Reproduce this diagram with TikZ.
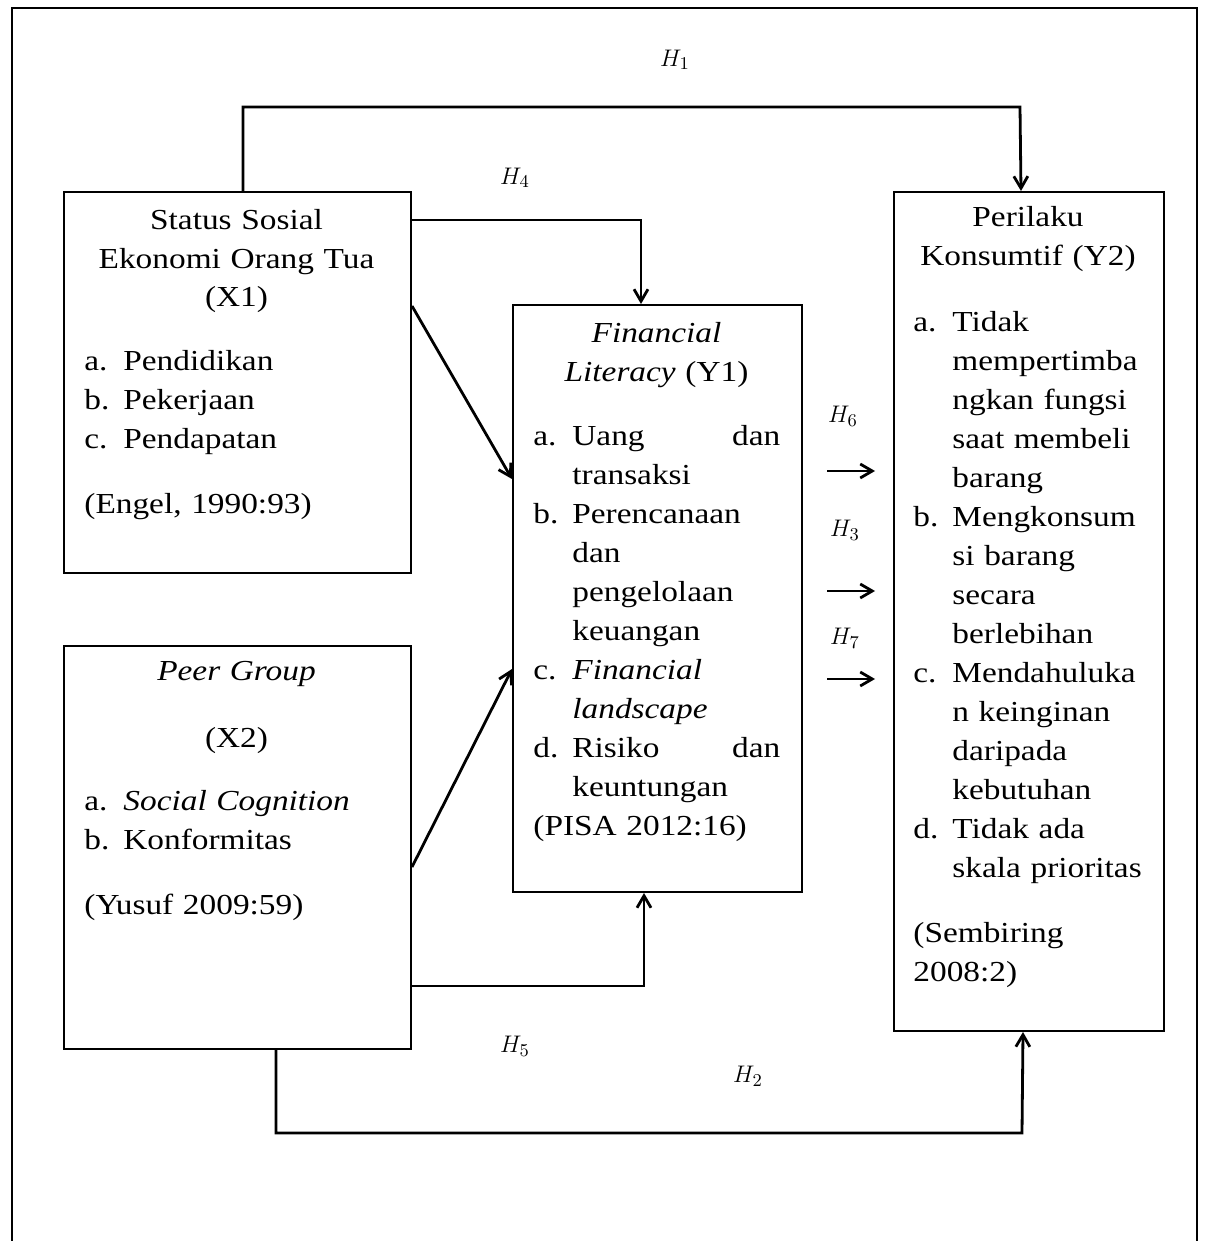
\documentclass[tikz,border=0pt]{standalone}
\usepackage{fontspec}
\setmainfont{Liberation Serif}[FakeStretch=1.15]
\usepackage{amsmath}
\usetikzlibrary{arrows.meta}

\newcommand{\itemlbl}[1]{\makebox[19.5pt][l]{#1}}
\newcommand{\itemind}{\hspace*{19.5pt}}

\tikzset{
  box/.style={draw, line width=1pt, anchor=north west, inner sep=0pt},
  ttl/.style={align=center, inner sep=0pt, anchor=base},
  lst/.style={align=left, inner sep=0pt, anchor=base west},
  arr/.style={-{Straight Barb[length=6pt,width=7pt]}, line width=1.4pt},
  hyp/.style={font=\fontsize{13}{15}\selectfont, inner sep=0pt}
}

\begin{document}
\begin{tikzpicture}[x=0.5pt, y=-0.5pt, every node/.style={font=\fontsize{14.5}{19.5}\selectfont}]
  \useasboundingbox (0,0) rectangle (1205,1241);

  % frame
  \draw[line width=1pt] (12,1241) |- (1197,8) -- (1197,1241);

  % Status sosial ekonomi orang tua
  \node[box, minimum width=173.5pt, minimum height=190.5pt] (x1) at (63,191) {};
  \node[ttl, text width=173.5pt] (x1ttl) at (236.5,229) {Status Sosial\\Ekonomi Orang Tua\\(X1)};
  \node[lst, text width=160pt] (x1lst) at (84,370)
    {\itemlbl{a.}Pendidikan\\\itemlbl{b.}Pekerjaan\\\itemlbl{c.}Pendapatan\\[13pt](Engel, 1990:93)};

  % Peer group
  \node[box, minimum width=173.5pt, minimum height=201.5pt] (x2) at (63,645) {};
  \node[ttl, text width=173.5pt] (x2ttl) at (236.5,680) {\textit{Peer Group}\\[14pt](X2)};
  \node[lst, text width=160pt] (x2lst) at (84,810)
    {\itemlbl{a.}\textit{Social Cognition}\\\itemlbl{b.}Konformitas\\[13pt](Yusuf 2009:59)};

  % Financial literacy
  \node[box, minimum width=144.5pt, minimum height=293.5pt] (y1) at (512,304) {};
  \node[ttl, text width=144.5pt] (y1ttl) at (656.5,342) {\textit{Financial}\\\textit{Literacy} (Y1)};
  \node[lst, text width=123.5pt] (y1lst) at (533,445)
    {\itemlbl{a.}Uang\hfill dan\\\itemind transaksi\\
     \itemlbl{b.}Perencanaan\\\itemind dan\\\itemind pengelolaan\\\itemind keuangan\\
     \itemlbl{c.}\textit{Financial}\\\itemind\textit{landscape}\\
     \itemlbl{d.}Risiko\hfill dan\\\itemind keuntungan\\(PISA 2012:16)};

  % Perilaku konsumtif
  \node[box, minimum width=135pt, minimum height=419.5pt] (y2) at (893,191) {};
  \node[ttl, text width=135pt] (y2ttl) at (1028,227) {Perilaku\\Konsumtif (Y2)};
  \node[lst, text width=122pt] (y2lst) at (913,331)
    {\itemlbl{a.}Tidak\\\itemind mempertimba\\\itemind ngkan fungsi\\\itemind saat membeli\\\itemind barang\\
     \itemlbl{b.}Mengkonsum\\\itemind si barang\\\itemind secara\\\itemind berlebihan\\
     \itemlbl{c.}Mendahuluka\\\itemind n keinginan\\\itemind daripada\\\itemind kebutuhan\\
     \itemlbl{d.}Tidak ada\\\itemind skala prioritas\\[13pt](Sembiring\\2008:2)};

  % Hipotesis
  \node[hyp] (h1) at (675,60) {$H_1$};
  \node[hyp] (h4) at (515,178) {$H_4$};
  \node[hyp] (h6) at (843,416) {$H_6$};
  \node[hyp] (h3) at (845,530) {$H_3$};
  \node[hyp] (h7) at (845,638) {$H_7$};
  \node[hyp] (h5) at (515,1046) {$H_5$};
  \node[hyp] (h2) at (748,1076) {$H_2$};

  % Panah
  \coordinate (h1turn) at (1020,107);
  \coordinate (h2turn) at (1022,1133);
  \draw[arr] ([xshift=2.75pt]x1.north) |- (h1turn) -- ([xshift=-4pt]y2.north);
  \draw[arr] ([yshift=81.25pt]x1.east) -| ([xshift=-8.25pt]y1.north);
  \draw[arr] ([yshift=38.25pt]x1.east) -- ([yshift=59.75pt]y1.west);
  \draw[arr] ([yshift=-9.75pt]x2.east) -- ([yshift=-35.25pt]y1.west);
  \draw[arr] ([yshift=-69.25pt]x2.east) -| ([xshift=-6.75pt]y1.south);
  \draw[arr] ([xshift=19.25pt]x2.south) |- (h2turn) -- ([xshift=-3pt]y2.south);

  \coordinate (s6) at ([yshift=63.75pt]y1.east);
  \coordinate (s3) at ([yshift=3.75pt]y1.east);
  \coordinate (s7) at ([yshift=-40.25pt]y1.east);
  \draw[arr, shorten <=12pt, shorten >=9pt] (s6) -- (s6 -| y2.west);
  \draw[arr, shorten <=12pt, shorten >=9pt] (s3) -- (s3 -| y2.west);
  \draw[arr, shorten <=12pt, shorten >=9pt] (s7) -- (s7 -| y2.west);
\end{tikzpicture}
\end{document}
